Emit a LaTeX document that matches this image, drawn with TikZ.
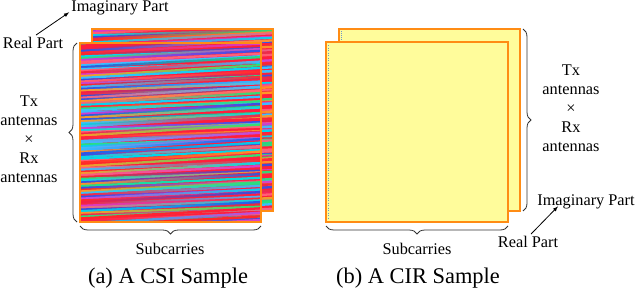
\documentclass[tikz,border=0pt]{standalone}
\usepackage{fontspec}
\setmainfont{Liberation Serif}
\usetikzlibrary{decorations.pathreplacing,arrows.meta,calc,positioning}
\definecolor{frameorange}{RGB}{255,140,20}
\definecolor{cirfill}{RGB}{255,252,155}
\definecolor{tickblue}{RGB}{110,150,200}
% stripe palette
\definecolor{st0}{RGB}{255,30,60}
\definecolor{st1}{RGB}{255,95,120}
\definecolor{st2}{RGB}{0,215,235}
\definecolor{st3}{RGB}{45,80,230}
\definecolor{st4}{RGB}{40,225,120}
\definecolor{st5}{RGB}{215,60,210}
\definecolor{st6}{RGB}{255,150,40}
\definecolor{st7}{RGB}{255,40,40}
\definecolor{st8}{RGB}{60,190,255}

\begin{document}
\begin{tikzpicture}[x=1pt,y=-1pt,
    lbl/.style={font=\fontsize{16.3}{19}\selectfont, inner sep=0pt},
    captxt/.style={font=\fontsize{22.4}{26}\selectfont, inner sep=0pt},
    frame/.style={draw=frameorange, line width=1.8pt},
    curly/.style={decorate, decoration={brace,amplitude=8pt}, draw=black!80, line width=0.8pt}]
        \useasboundingbox (0,0) rectangle (640,292);
        \pgfmathsetseed{11}
        % Define corners
        \coordinate (csiB1) at (92,29);
        \coordinate (csiB2) at (273,211);
        \coordinate (csiF1) at (80,43);
        \coordinate (csiF2) at (261,222);
        \coordinate (cirB1) at (339,29);
        \coordinate (cirB2) at (520,211);
        \coordinate (cirF1) at (326,42);
        \coordinate (cirF2) at (508,222);
        % CSI sample, imaginary then real part
        \foreach \a/\b in {csiB1/csiB2, csiF1/csiF2}{
          \begin{scope}
            \clip (\a) rectangle (\b);
            \fill[st0] (\a) rectangle (\b);
            \foreach \i in {0,...,110}{
              \pgfmathtruncatemacro{\ca}{random(0,8)}
              \pgfmathtruncatemacro{\cb}{random(0,8)}
              \pgfmathsetmacro{\tilt}{random(6,12)}
              \pgfmathsetmacro{\yy}{1.8*\i}
              \shade[left color=st\ca, right color=st\cb]
                ($(\a)+(-5,\yy)$) -- ($(\a)+(190,\yy-\tilt)$) -- ($(\a)+(190,\yy-\tilt+2.3)$) -- ($(\a)+(-5,\yy+2.3)$) -- cycle;
            }
          \end{scope}
          \draw[frame] (\a) rectangle (\b);
        }
        % CIR sample
        \fill[cirfill] (cirB1) rectangle (cirB2);
        \draw[tickblue, dash pattern=on 1pt off 1pt] ($(cirB1)+(2,2)$) -- ($(cirB1)+(2,12)$);
        \draw[frame] (cirB1) rectangle (cirB2);
        \fill[cirfill] (cirF1) rectangle (cirF2);
        \draw[tickblue, line width=1pt, dash pattern=on 1pt off 1.5pt] ($(cirF1)+(2,3)$) -- ($(cirF1 |- cirF2)+(2,-3)$);
        \draw[frame] (cirF1) rectangle (cirF2);
        % Braces
        \draw[curly] ($(csiF1 |- csiF2)+(-3,0)$) -- ($(csiF1)+(-3,0)$);
        \draw[curly, decoration={mirror}] ($(csiF1 |- csiF2)+(0,4)$) -- ($(csiF2)+(0,4)$);
        \draw[curly] ($(cirB2 |- cirB1)+(3,0)$) -- ($(cirB2)+(3,0)$);
        \draw[curly, decoration={mirror}] ($(cirF1 |- cirF2)+(0,4)$) -- ($(cirF2)+(0,4)$);
        % Labels
        \node[lbl] (imagL) at (120,8) {Imaginary Part};
        \node[lbl] (realL) at (33,43) {Real Part};
        \node[lbl, align=center] (antL) at (29,139) {Tx\\antennas\\×\\Rx\\antennas};
        \node[lbl] (subL) at (170,249) {Subcarries};
        \node[captxt] (capL) at (168,278) {(a) A CSI Sample};
        \node[lbl] (imagR) at (586,202) {Imaginary Part};
        \node[lbl] (realR) at (528,242) {Real Part};
        \node[lbl, align=center] (antR) at (571,108) {Tx\\antennas\\×\\Rx\\antennas};
        \node[lbl] (subR) at (417,249) {Subcarries};
        \node[captxt] (capR) at (418,278) {(b) A CIR Sample};
        % Arrows
        \draw[-latex, thick] ([shift={(3,-2)}]realL.north) -- ([shift={(-2,-3)}]imagL.south west);
        \draw[-latex, thick] ([shift={(3,-2)}]realR.north) -- ([shift={(-28,-3)}]imagR.south);
\end{tikzpicture}
\end{document}
